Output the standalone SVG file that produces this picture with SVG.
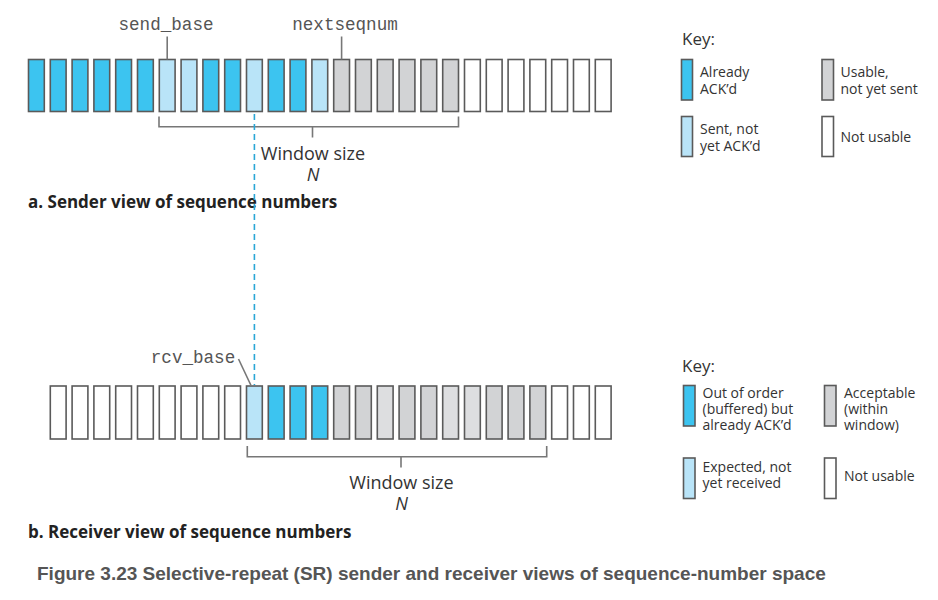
<svg xmlns="http://www.w3.org/2000/svg" width="938" height="600" viewBox="0 0 938 600">
<style>
.b{stroke:#5a5a5a;stroke-width:1.6}
.d{fill:#3cc4f0}
.l{fill:#b9e4f8}
.g{fill:#d2d3d5}
.g2{fill:#dddee0}
.w{fill:#ffffff}
.ln{stroke:#777;stroke-width:1.6;fill:none}
.mono{font-family:"Liberation Mono",monospace;font-size:17.6px;fill:#555}
.t{font-family:"Open Sans","Noto Sans",sans-serif;fill:#333}
.ws{font-size:18px}
.k{font-size:14px}
.kh{font-size:17px}
.h{font-family:"Open Sans","Noto Sans",sans-serif;font-weight:bold;font-size:17px;fill:#222}
.cap{font-family:"Liberation Sans",Arial,sans-serif;font-weight:bold;font-size:19px;fill:#555}
</style>
<rect width="938" height="600" fill="#fff"/>

<g id="sender-row">
<rect class="b d" x="28.5" y="59.5" width="15.8" height="52"/>
<rect class="b d" x="50.3" y="59.5" width="15.8" height="52"/>
<rect class="b d" x="72.1" y="59.5" width="15.8" height="52"/>
<rect class="b d" x="93.9" y="59.5" width="15.8" height="52"/>
<rect class="b d" x="115.7" y="59.5" width="15.8" height="52"/>
<rect class="b d" x="137.5" y="59.5" width="15.8" height="52"/>
<rect class="b l" x="159.3" y="59.5" width="15.8" height="52"/>
<rect class="b l" x="181.1" y="59.5" width="15.8" height="52"/>
<rect class="b d" x="202.9" y="59.5" width="15.8" height="52"/>
<rect class="b d" x="224.7" y="59.5" width="15.8" height="52"/>
<rect class="b l" x="246.5" y="59.5" width="15.8" height="52"/>
<rect class="b d" x="268.3" y="59.5" width="15.8" height="52"/>
<rect class="b d" x="290.1" y="59.5" width="15.8" height="52"/>
<rect class="b l" x="311.9" y="59.5" width="15.8" height="52"/>
<rect class="b g" x="333.7" y="59.5" width="15.8" height="52"/>
<rect class="b g" x="355.5" y="59.5" width="15.8" height="52"/>
<rect class="b g" x="377.3" y="59.5" width="15.8" height="52"/>
<rect class="b g" x="399.1" y="59.5" width="15.8" height="52"/>
<rect class="b g" x="420.9" y="59.5" width="15.8" height="52"/>
<rect class="b g" x="442.7" y="59.5" width="15.8" height="52"/>
<rect class="b w" x="464.5" y="59.5" width="15.8" height="52"/>
<rect class="b w" x="486.3" y="59.5" width="15.8" height="52"/>
<rect class="b w" x="508.1" y="59.5" width="15.8" height="52"/>
<rect class="b w" x="529.9" y="59.5" width="15.8" height="52"/>
<rect class="b w" x="551.7" y="59.5" width="15.8" height="52"/>
<rect class="b w" x="573.5" y="59.5" width="15.8" height="52"/>
<rect class="b w" x="595.3" y="59.5" width="15.8" height="52"/>
</g>

<g id="sender-labels">
<text class="mono" x="166" y="30" text-anchor="middle">send_base</text>
<text class="mono" x="345" y="30" text-anchor="middle">nextseqnum</text>
<text class="t ws" x="313" y="160" text-anchor="middle">Window size</text>
<text class="t ws" x="313" y="181" text-anchor="middle" font-style="italic">N</text>
<text class="h" x="28" y="208">a. Sender view of sequence numbers</text>
</g>

<g id="receiver-row">
<rect class="b w" x="50.3" y="386" width="15.8" height="53"/>
<rect class="b w" x="72.1" y="386" width="15.8" height="53"/>
<rect class="b w" x="93.9" y="386" width="15.8" height="53"/>
<rect class="b w" x="115.7" y="386" width="15.8" height="53"/>
<rect class="b w" x="137.5" y="386" width="15.8" height="53"/>
<rect class="b w" x="159.3" y="386" width="15.8" height="53"/>
<rect class="b w" x="181.1" y="386" width="15.8" height="53"/>
<rect class="b w" x="202.9" y="386" width="15.8" height="53"/>
<rect class="b w" x="224.7" y="386" width="15.8" height="53"/>
<rect class="b l" x="246.5" y="386" width="15.8" height="53"/>
<rect class="b d" x="268.3" y="386" width="15.8" height="53"/>
<rect class="b d" x="290.1" y="386" width="15.8" height="53"/>
<rect class="b d" x="311.9" y="386" width="15.8" height="53"/>
<rect class="b g" x="333.7" y="386" width="15.8" height="53"/>
<rect class="b g" x="355.5" y="386" width="15.8" height="53"/>
<rect class="b g2" x="377.3" y="386" width="15.8" height="53"/>
<rect class="b g" x="399.1" y="386" width="15.8" height="53"/>
<rect class="b g" x="420.9" y="386" width="15.8" height="53"/>
<rect class="b g2" x="442.7" y="386" width="15.8" height="53"/>
<rect class="b g2" x="464.5" y="386" width="15.8" height="53"/>
<rect class="b g" x="486.3" y="386" width="15.8" height="53"/>
<rect class="b g" x="508.1" y="386" width="15.8" height="53"/>
<rect class="b g" x="529.9" y="386" width="15.8" height="53"/>
<rect class="b w" x="551.7" y="386" width="15.8" height="53"/>
<rect class="b w" x="573.5" y="386" width="15.8" height="53"/>
<rect class="b w" x="595.3" y="386" width="15.8" height="53"/>
</g>

<g id="receiver-labels">
<text class="mono" x="193" y="363" text-anchor="middle">rcv_base</text>
<text class="t ws" x="401.5" y="489" text-anchor="middle">Window size</text>
<text class="t ws" x="401.5" y="510" text-anchor="middle" font-style="italic">N</text>
<text class="h" x="28" y="538">b. Receiver view of sequence numbers</text>
</g>

<g id="connectors">
<path class="ln" d="M167.2 36.5V59.5"/>
<path class="ln" d="M341.6 36.5V59.5"/>
<path class="ln" d="M159 116.5V126.8H458.5V116.5M312.5 126.8V137.5"/>
<path class="ln" d="M238.5 359L251 385.5"/>
<path class="ln" d="M247.3 446V456.8H546.7V446M401 456.8V467.5"/>
<path d="M254.4 114V385" stroke="#2aa6d6" stroke-width="1.6" stroke-dasharray="6,4" fill="none"/>
</g>

<g id="key-sender">
<text class="t kh" x="682" y="45">Key:</text>
<g id="key-s-acked">
<rect class="b d" x="681.5" y="59.5" width="11" height="40.5"/>
<text class="t k" x="700" y="76.5">Already</text>
<text class="t k" x="700" y="93.5">ACK’d</text>
</g>
<g id="key-s-usable">
<rect class="b g" x="822" y="59.5" width="11.5" height="40.5"/>
<text class="t k" x="840.5" y="76.5">Usable,</text>
<text class="t k" x="840.5" y="93.5">not yet sent</text>
</g>
<g id="key-s-sent">
<rect class="b l" x="681.5" y="116.5" width="11" height="40"/>
<text class="t k" x="700" y="133.5">Sent, not</text>
<text class="t k" x="700" y="150.5">yet ACK’d</text>
</g>
<g id="key-s-notusable">
<rect class="b w" x="822" y="116.5" width="11.5" height="40"/>
<text class="t k" x="840.5" y="142">Not usable</text>
</g>
</g>

<g id="key-receiver">
<text class="t kh" x="682" y="372">Key:</text>
<g id="key-r-ooo">
<rect class="b d" x="683.5" y="385.5" width="11.5" height="40.5"/>
<text class="t k" x="702.5" y="397.5">Out of order</text>
<text class="t k" x="702.5" y="413.8">(buffered) but</text>
<text class="t k" x="702.5" y="430">already ACK’d</text>
</g>
<g id="key-r-acceptable">
<rect class="b g" x="824.5" y="385.5" width="11.5" height="40.5"/>
<text class="t k" x="844" y="397.5">Acceptable</text>
<text class="t k" x="844" y="413.8">(within</text>
<text class="t k" x="844" y="430">window)</text>
</g>
<g id="key-r-expected">
<rect class="b l" x="683.5" y="458" width="11.5" height="40.5"/>
<text class="t k" x="702.5" y="471.5">Expected, not</text>
<text class="t k" x="702.5" y="488">yet received</text>
</g>
<g id="key-r-notusable">
<rect class="b w" x="824.5" y="458" width="11.5" height="40.5"/>
<text class="t k" x="844" y="481">Not usable</text>
</g>
</g>

<text class="cap" x="37" y="580">Figure 3.23 Selective-repeat (SR) sender and receiver views of sequence-number space</text>
</svg>
